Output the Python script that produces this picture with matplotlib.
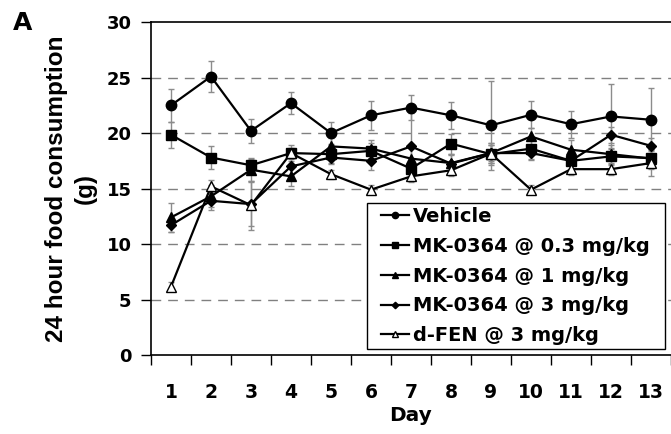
import numpy as np
import matplotlib
matplotlib.use("Agg")
import matplotlib.pyplot as plt
from matplotlib.patches import Rectangle

plt.rcParams['font.family'] = ['DejaVu Sans']
plt.rcParams['font.weight'] = 'bold'

days = list(range(1, 14))
day_labels = [str(d) for d in days]

vehicle = [22.5, 25.1, 20.2, 22.7, 20.0, 21.6, 22.3, 21.6, 20.7, 21.65, 20.8, 21.5, 21.2]
vehicle_err = [1.5, 1.4, 1.1, 1.0, 1.0, 1.3, 1.1, 1.2, 4.0, 1.2, 1.2, 2.9, 2.85]
mk03 = [19.85, 17.8, 17.1, 18.2, 18.1, 18.4, 16.8, 19.05, 18.1, 18.6, 17.5, 17.9, 17.75]
mk03_err = [1.15, 1.0, 0.7, 0.7, 0.8, 0.7, 0.7, 0.9, 0.8, 0.9, 0.8, 0.8, 0.8]
mk1 = [12.4, 14.3, 16.7, 16.1, 18.8, 18.6, 17.7, 17.3, 18.2, 19.7, 18.5, 18.1, 17.7]
mk1_err = [1.3, 1.0, 1.0, 0.9, 0.8, 0.8, 1.0, 0.8, 0.9, 0.8, 0.9, 0.8, 0.9]
mk3 = [11.7, 13.9, 13.6, 17.0, 17.8, 17.5, 18.8, 17.25, 18.2, 18.2, 17.5, 19.85, 18.85]
mk3_err = [0.6, 0.8, 2.0, 0.8, 0.6, 0.8, 3.0, 0.8, 0.7, 0.6, 0.7, 0.7, 0.7]
dfen = [6.15, 15.2, 13.5, 18.2, 16.3, 14.9, 16.1, 16.65, 18.15, 14.9, 16.75, 16.75, 17.3]
dfen_err = [0.4, 0.6, 2.2, 0.5, 0.4, 0.4, 0.5, 0.5, 1.0, 0.4, 0.5, 0.5, 1.2]

series = [
    ("Vehicle", vehicle, vehicle_err, 'o', 'black', 7.5),
    ("MK-0364 @ 0.3 mg/kg", mk03, mk03_err, 's', 'black', 7),
    ("MK-0364 @ 1 mg/kg", mk1, mk1_err, '^', 'black', 6.5),
    ("MK-0364 @ 3 mg/kg", mk3, mk3_err, 'D', 'black', 5.5),
    ("d-FEN @ 3 mg/kg", dfen, dfen_err, '^', 'white', 7.5),
]

fig = plt.figure(figsize=(6.71, 4.34), dpi=100)
ax = fig.add_axes([0.225, 0.182, 0.775, 0.767])

for y in [5, 10, 15, 20, 25]:
    ax.axhline(y, color='#808080', lw=1, dashes=(7, 5), zorder=0)

handles = []
for name, vals, err, mk, face, ms in series:
    ax.errorbar(days, vals, yerr=err, fmt='none', ecolor='#8c8c8c',
                elinewidth=1, capsize=2.5, capthick=1, zorder=1)
    h, = ax.plot(days, vals, color='black', lw=1.6, marker=mk, ms=ms,
                 mfc=face, mec='black', mew=1, zorder=3, label=name)
    handles.append(h)

ax.set_xlim(0.5, 13.44)
ax.set_ylim(0, 30)
ax.set_yticks([0, 5, 10, 15, 20, 25, 30])
ax.set_xticks(np.arange(0.5, 14, 1))
ax.set_xticklabels([])
ax.set_xticks(days, minor=True)
ax.set_xticklabels(day_labels, minor=True)
ax.tick_params(axis='x', which='major', length=7, width=1, direction='out')
ax.tick_params(axis='x', which='minor', length=0, pad=20, labelsize=13.5)
ax.tick_params(axis='y', length=7, width=1, direction='out', labelsize=13, pad=7)
for lab in ax.get_xticklabels(minor=True) + ax.get_yticklabels():
    lab.set_fontweight('bold')

ax.spines['right'].set_visible(False)
for s in ['left', 'top', 'bottom']:
    ax.spines[s].set_linewidth(1.2)

ax.set_xlabel("Day", fontsize=14.5, fontweight='bold', labelpad=3)
ax.set_ylabel("24 hour food consumption\n(g)", fontsize=17.5, fontweight='bold',
              family='Liberation Sans', linespacing=1.35)
ax.yaxis.set_label_coords(-0.104, 0.5)

# legend box (frame drawn separately so padding matches)
box = Rectangle((0.4154, 0.018), 0.5731, 0.4385, transform=ax.transAxes,
                facecolor='white', edgecolor='black', lw=1, zorder=4)
ax.add_patch(box)
leg = ax.legend(handles=handles, loc='center', bbox_to_anchor=(0.701, 0.237),
                frameon=False, fontsize=14, markerscale=0.6,
                handlelength=1.45, handletextpad=0.2, borderpad=0,
                labelspacing=0.55, borderaxespad=0)
for t in leg.get_texts():
    t.set_fontweight('bold')
leg.set_zorder(5)

fig.text(0.019, 0.93, "A", fontsize=18, fontweight='bold')

fig.savefig("out.png", dpi=100)
